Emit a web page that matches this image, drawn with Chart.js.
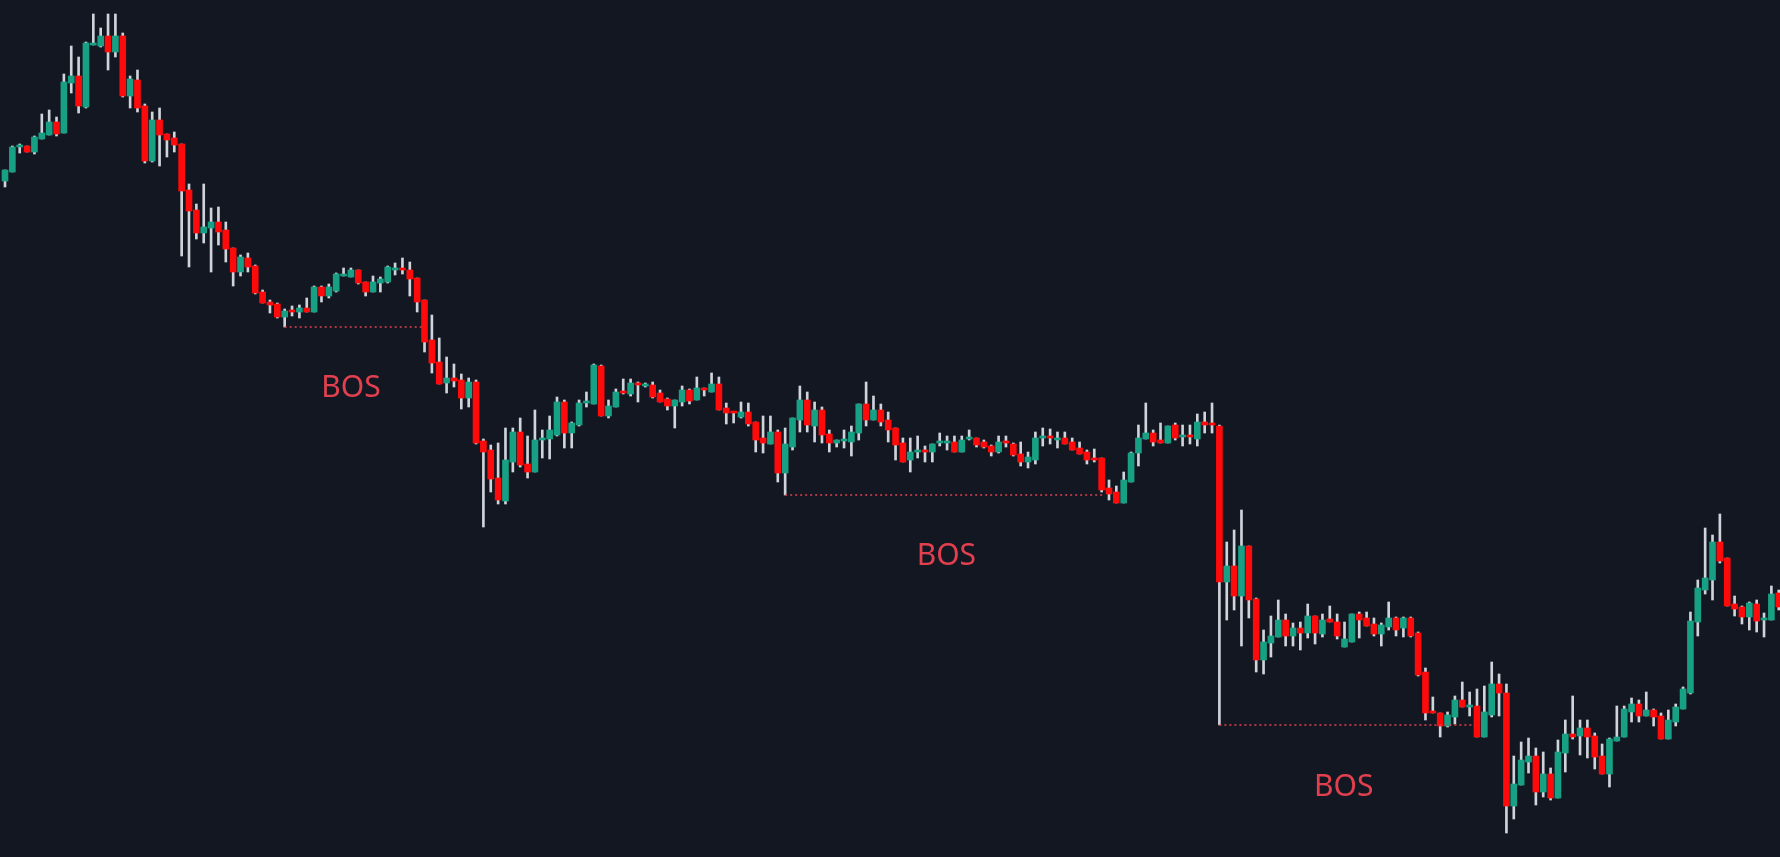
<!DOCTYPE html>
<html>
<head>
<meta charset="utf-8">
<title>BOS</title>
<script src="https://cdn.jsdelivr.net/npm/chart.js@4.4.1/dist/chart.umd.min.js"></script>
<style>
  html, body { margin: 0; padding: 0; background: #131722; overflow: hidden; }
  #wrap { position: relative; width: 1780px; height: 857px; }
</style>
</head>
<body>
<div id="wrap"><canvas id="chart"></canvas></div>
<script>
// Velas (OHLC)
const opens = [
  819,828,853,854,848,861,865,878,867,917, 924,893,955,954,964,948,964,904,920,894,
  839,880,866,862,856,810,790,767,772,778, 770,752,728,742,734,708,698,696,683,690,
  688,692,688,713,704,709,724,723,730,718, 708,717,718,730,732,730,722,700,660,638,
  617,622,620,602,618,559,550,522,499,538, 568,536,528,560,561,565,598,567,575,597,
  596,634,584,593,608,606,617,614,615,607, 601,594,598,610,600,612,608,616,592,588,
  583,588,578,562,556,568,527,553,580,600, 574,590,566,557,559,558,567,596,580,590,
  580,572,557,540,548,550,548,557,557,558, 548,561,562,558,554,548,558,556,546,538,
  540,562,564,560,562,558,552,548,542,542, 512,508,497,518,547,561,567,560,557,575,
  563,564,561,578,577,574,418,434,404,454, 401,340,357,363,380,364,372,367,384,366,
  381,378,353,358,386,382,376,366,373,382, 372,382,367,328,288,287,274,283,300,293,
  294,263,285,316,307,194,215,238,244,208, 226,202,247,266,264,272,264,244,226,259,
  263,288,296,284,290,284,261,278,291,307, 378,410,420,458,442,396,393,383,396,380,
  380,407
];
const highs = [
  830,854,856,854,864,886,890,883,926,954, 943,958,986,972,986,986,967,924,930,896,
  888,892,866,868,856,816,796,816,792,793, 778,752,745,747,735,710,700,697,691,694,
  695,702,714,714,716,727,732,732,730,718, 724,723,734,737,742,738,722,700,685,662,
  643,636,626,622,620,561,555,557,572,572, 582,564,590,570,584,603,600,578,600,608,
  636,635,600,611,621,621,618,617,618,610, 602,600,614,611,623,612,627,623,597,588,
  598,597,578,584,584,570,572,582,614,608, 598,593,570,560,570,574,596,618,604,596,
  588,572,562,562,564,554,556,567,564,564, 564,570,562,560,555,564,564,557,558,548,
  568,572,571,568,568,562,558,550,551,542, 520,514,528,548,575,597,570,577,574,577,
  575,575,586,588,597,575,458,470,490,454, 402,370,384,400,386,377,378,396,384,386,
  394,386,378,386,388,388,382,377,398,383, 383,383,368,332,303,287,288,304,318,308,
  311,314,338,326,316,244,258,262,252,248, 232,260,280,304,280,280,267,256,262,294,
  294,302,300,308,291,287,290,296,313,388, 420,472,465,486,442,404,394,398,400,387,
  414,410
];
const lows = [
  813,828,847,848,846,861,865,864,867,907, 887,892,955,953,930,943,903,892,888,837,
  838,834,843,848,744,733,761,757,728,755, 738,714,724,728,706,697,687,682,673,684,
  682,688,688,698,702,708,724,723,716,704, 708,708,717,725,726,704,688,648,627,616,
  607,613,591,593,556,473,508,496,496,528, 533,522,528,542,541,564,552,552,574,593,
  596,584,582,593,606,604,598,613,602,598, 590,572,594,596,600,604,608,590,576,577,
  582,574,548,547,556,518,505,550,568,568, 558,557,548,553,552,544,560,574,580,574,
  558,540,538,528,542,538,538,554,550,548, 548,560,553,552,544,547,553,544,534,532,
  536,554,556,552,556,550,546,536,538,508, 500,497,497,518,534,561,554,557,557,560,
  554,556,554,567,567,275,380,390,354,382, 328,326,343,363,354,354,350,362,356,363,
  378,361,353,358,362,374,364,354,370,364, 363,363,324,280,287,263,273,276,293,284,
  263,263,283,284,167,181,215,227,195,203, 200,202,228,261,245,242,231,226,213,259,
  263,278,278,284,274,261,261,274,291,306, 364,406,400,437,394,384,376,370,368,363,
  380,390
];
const closes = [
  830,853,854,848,863,867,878,866,918,924, 894,957,956,964,948,964,904,921,892,839,
  880,865,860,855,809,789,767,773,778,768, 751,728,743,733,707,697,695,683,689,688,
  692,688,713,704,713,726,726,730,717,708, 718,721,733,731,730,721,698,658,637,616,
  622,619,602,618,557,548,521,500,540,568, 535,528,560,562,570,598,567,577,597,598,
  635,584,594,608,607,617,615,615,603,598, 594,600,610,599,612,610,616,590,587,587,
  588,576,560,557,568,527,556,582,600,575, 590,565,557,560,560,568,596,580,590,578,
  570,555,538,548,550,548,556,558,558,548, 560,562,555,553,548,558,557,545,538,543,
  562,563,562,562,556,550,546,540,540,510, 506,497,520,547,562,567,558,557,574,562,
  564,563,578,575,575,418,434,404,454,400, 340,358,364,380,364,372,367,384,367,380,
  378,364,361,386,380,374,366,375,382,370, 382,364,325,287,287,274,285,300,293,294,
  263,288,316,307,194,216,240,244,208,226, 202,248,266,263,272,263,243,226,261,263,
  291,296,284,290,283,261,280,293,311,379, 412,422,458,439,394,391,383,397,379,382,
  406,393
];

// Niveles de ruptura de estructura (BOS)
const bosLevels = [673, 505, 275];
const bosStart = [38, 106, 165];
const bosEnd = [56.7, 149.2, 199.7];
const bosText = ["BOS", "BOS", "BOS"];
const bosLabelX = [47, 127.9, 181.9];
const bosLabelY = [603, 435, 204];

document.addEventListener("DOMContentLoaded", function () {
  const ctx = document.getElementById("chart").getContext("2d");

  const green = "#17a083";
  const red = "#ff0a0a";
  const wickColor = "#cfd3da";
  const bosColor = "#e2404f";

  const wickData = opens.map((o, i) => ({ x: i, y: [lows[i], highs[i]] }));
  const bodyData = opens.map((o, i) => ({ x: i, y: [Math.min(o, closes[i]), Math.max(o, closes[i])] }));
  const bodyColors = opens.map((o, i) => (closes[i] >= o ? green : red));

  const bosLines = bosLevels.map((lvl, i) => ({
    type: "line",
    data: [{ x: bosStart[i], y: lvl }, { x: bosEnd[i], y: lvl }],
    borderColor: bosColor,
    borderWidth: 1.5,
    borderDash: [2, 3],
    pointRadius: 0,
    order: 0
  }));

  // Etiquetas "BOS" dibujadas sobre la gráfica
  const bosLabels = {
    id: "bosLabels",
    afterDatasetsDraw(chart) {
      const c = chart.ctx;
      const x = chart.scales.x;
      const y = chart.scales.y;
      c.save();
      c.font = "30px 'Noto Sans'";
      c.fillStyle = bosColor;
      c.textAlign = "center";
      c.textBaseline = "alphabetic";
      bosText.forEach((t, i) => {
        c.fillText(t, x.getPixelForValue(bosLabelX[i]), y.getPixelForValue(bosLabelY[i]));
      });
      c.restore();
    }
  };

  new Chart(ctx, {
    type: "bar",
    data: {
      datasets: [
        {
          label: "Mechas",
          data: wickData,
          backgroundColor: wickColor,
          barThickness: 2,
          grouped: false,
          order: 2
        },
        {
          label: "Cuerpos",
          data: bodyData,
          backgroundColor: bodyColors,
          barThickness: 6,
          minBarLength: 2,
          grouped: false,
          order: 1
        },
        ...bosLines
      ]
    },
    options: {
      responsive: true,
      maintainAspectRatio: false,
      animation: false,
      devicePixelRatio: 1,
      layout: { padding: 0 },
      plugins: {
        legend: { display: false },
        title: { display: false },
        tooltip: { enabled: false }
      },
      scales: {
        x: {
          type: "linear",
          min: -0.68,
          max: 241.17,
          offset: false,
          display: false,
          grid: { display: false }
        },
        y: {
          min: 143,
          max: 1000,
          bounds: "data",
          display: false,
          grid: { display: false }
        }
      }
    },
    plugins: [bosLabels]
  });
});
</script>
</body>
</html>
